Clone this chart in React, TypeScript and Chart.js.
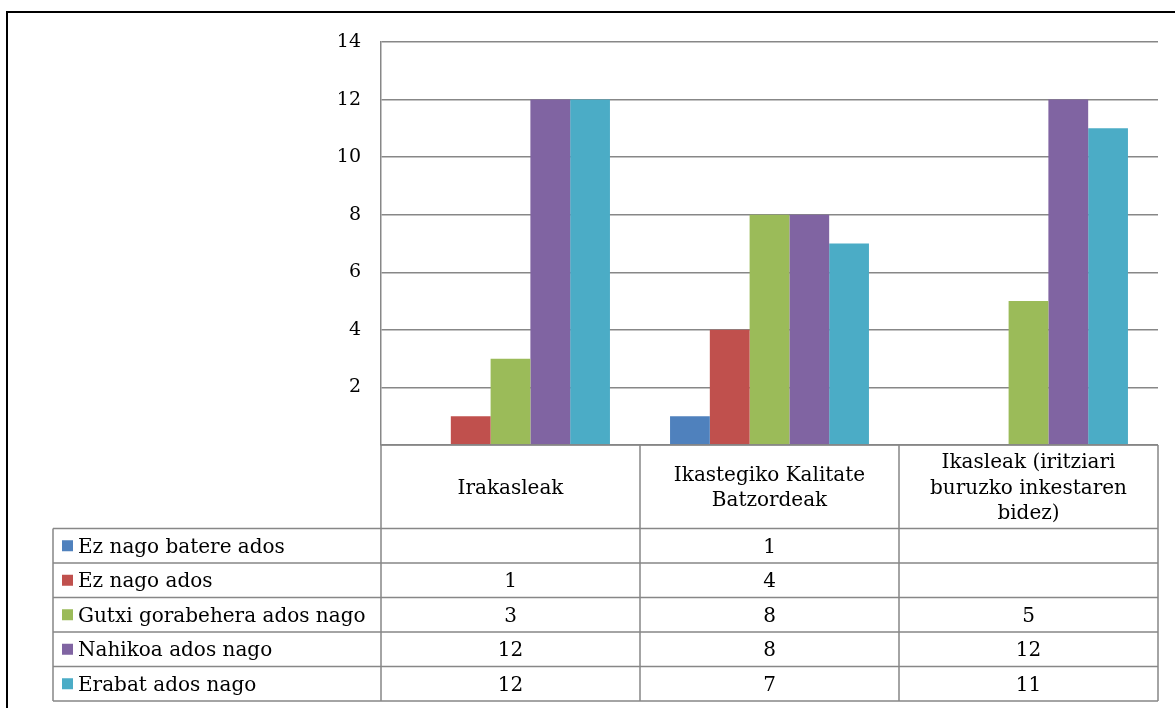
import React, { useEffect, useRef } from "react";
import { Chart, registerables } from "chart.js";

Chart.register(...registerables);

const categories: string[][] = [
  ["Irakasleak"],
  ["Ikastegiko Kalitate", "Batzordeak"],
  ["Ikasleak (iritziari", "buruzko inkestaren", "bidez)"],
];
const seriesNames = [
  "Ez nago batere ados",
  "Ez nago ados",
  "Gutxi gorabehera ados nago",
  "Nahikoa ados nago",
  "Erabat ados nago",
];
const ezNagoBatere: (number | null)[] = [null, 1, null];
const ezNagoAdos: (number | null)[] = [1, 4, null];
const gutxiGorabehera: (number | null)[] = [3, 8, 5];
const nahikoaAdos: (number | null)[] = [12, 8, 12];
const erabatAdos: (number | null)[] = [12, 7, 11];
const seriesColors = ["#4F81BD", "#C0504D", "#9BBB59", "#8064A2", "#4BACC6"];
const yTicks = { min: 0, max: 14, step: 2 };

const FONT = "'DejaVu Serif', 'Liberation Serif', serif";
const GRID = "#878787";

export default function App() {
  const ref = useRef<HTMLCanvasElement | null>(null);

  useEffect(() => {
    const canvas = ref.current;
    if (!canvas) return;
    const seriesData = [ezNagoBatere, ezNagoAdos, gutxiGorabehera, nahikoaAdos, erabatAdos];

    const tablePlugin = {
      id: "dataTable",
      beforeDraw(chart: any) {
        const ctx = chart.ctx;
        ctx.save();
        ctx.strokeStyle = "#000";
        ctx.lineWidth = 2;
        ctx.beginPath();
        ctx.moveTo(7, 708);
        ctx.lineTo(7, 12);
        ctx.lineTo(1175, 12);
        ctx.stroke();
        ctx.restore();
      },
      afterDraw(chart: any) {
        const ctx = chart.ctx;
        const area = chart.chartArea;
        const xs = chart.scales.x;
        const n = categories.length;
        const catW = (area.right - area.left) / n;
        const headerTop = area.bottom;
        const headerBottom = 528.5;
        const rowH = (701 - headerBottom) / seriesNames.length;
        const legendLeft = 53;
        const tableBottom = headerBottom + rowH * seriesNames.length;
        const size = 20;
        const cap = size * 0.68;

        ctx.save();
        ctx.strokeStyle = GRID;
        ctx.lineWidth = 1.5;
        ctx.beginPath();
        ctx.moveTo(area.left, headerTop);
        ctx.lineTo(area.right, headerTop);
        for (let r = 0; r <= seriesNames.length; r++) {
          const y = headerBottom + r * rowH;
          ctx.moveTo(legendLeft, y);
          ctx.lineTo(area.right, y);
        }
        for (let c = 0; c <= n; c++) {
          const x = area.left + c * catW;
          ctx.moveTo(x, headerTop);
          ctx.lineTo(x, tableBottom);
        }
        ctx.moveTo(legendLeft, headerBottom);
        ctx.lineTo(legendLeft, tableBottom);
        ctx.stroke();

        ctx.fillStyle = "#000";
        ctx.font = `${size}px ${FONT}`;
        ctx.textBaseline = "alphabetic";
        ctx.textAlign = "center";
        const lineGap = 25.5;
        categories.forEach((lines, i) => {
          const cx = xs.getPixelForValue(i);
          const cy = (headerTop + headerBottom) / 2;
          const start = cy - ((lines.length - 1) * lineGap) / 2;
          lines.forEach((ln, k) => {
            ctx.fillText(ln, cx, start + k * lineGap + cap / 2);
          });
        });

        seriesNames.forEach((name, r) => {
          const cy = headerBottom + r * rowH + rowH / 2;
          ctx.fillStyle = seriesColors[r];
          ctx.fillRect(62, cy - 5.5, 11, 11);
          ctx.fillStyle = "#000";
          ctx.textAlign = "left";
          ctx.fillText(name, 78, cy + cap / 2);
          ctx.textAlign = "center";
          seriesData[r].forEach((v, i) => {
            if (v === null || v === undefined) return;
            ctx.fillText(String(v), xs.getPixelForValue(i), cy + cap / 2);
          });
        });
        ctx.restore();
      },
    };

    const chart = new Chart(canvas, {
      type: "bar",
      data: {
        labels: categories.map((c) => c.join(" ")),
        datasets: seriesNames.map((name, i) => ({
          label: name,
          data: seriesData[i],
          backgroundColor: seriesColors[i],
          borderWidth: 0,
          categoryPercentage: 0.768,
          barPercentage: 1,
        })),
      },
      options: {
        responsive: false,
        animation: false,
        devicePixelRatio: 1,
        layout: { padding: { left: 300, right: 17, top: 42, bottom: 263 } },
        plugins: { legend: { display: false }, tooltip: { enabled: false }, title: { display: false } },
        scales: {
          x: { display: false },
          y: {
            min: yTicks.min,
            max: yTicks.max,
            afterFit: (s: any) => {
              s.width = 81;
            },
            ticks: {
              stepSize: yTicks.step,
              padding: 20,
              color: "#000",
              font: { family: FONT, size: 19 },
              callback: (v: any) => (Number(v) === 0 ? "" : String(v)),
            },
            grid: { color: GRID, lineWidth: 1.5, drawTicks: false },
            border: { display: true, color: GRID, width: 1.5 },
          },
        },
      },
      plugins: [tablePlugin],
    });
    return () => chart.destroy();
  }, []);

  return (
    <div style={{ position: "fixed", left: 0, top: 0, width: 1175, height: 708, background: "#fff" }}>
      <canvas ref={ref} width={1175} height={708} style={{ display: "block", width: 1175, height: 708 }} />
    </div>
  );
}
